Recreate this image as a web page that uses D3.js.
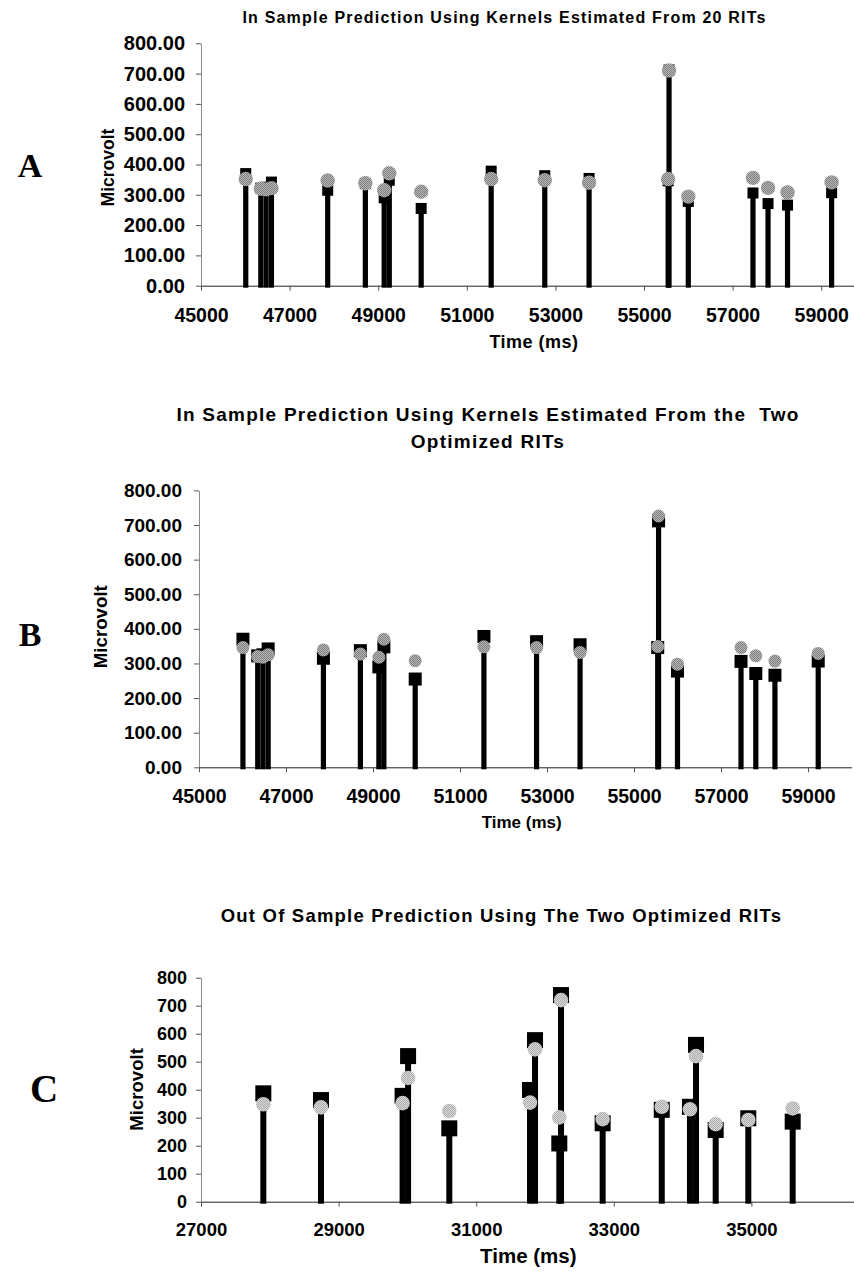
<!DOCTYPE html>
<html>
<head>
<meta charset="utf-8">
<script src="https://cdn.jsdelivr.net/npm/d3@7"></script>
<style>
  body { margin: 0; background: #fff; }
  svg { display: block; }
  text { font-family: "Liberation Sans", Arial, sans-serif; font-weight: bold; fill: #000; }
  .letter { font-family: "Liberation Serif", "Times New Roman", serif; }
</style>
</head>
<body>
<svg id="fig" width="854" height="1276"></svg>
<script>
// ---- In-sample events (panels A and B share the recorded responses) ----
const inSampleTimes = [46010, 46350, 46470, 46590, 47860, 48710, 49135, 49250, 49970,
                       51550, 52760, 53760, 55545, 55565, 56000, 57460, 57800, 58240, 59235];
const measuredAB    = [370, 322, 325, 342, 315, 337, 290, 348, 255,
                       378, 363, 354, 346, 712, 278, 306, 271, 266, 307];
// prediction from kernels estimated with 20 RITs
const predictedA    = [352, 320, 318, 322, 347, 338, 315, 371, 310,
                       352, 348, 340, 352, 710, 294, 356, 323, 308, 341];
// prediction from kernels estimated with the two optimized RITs
const predictedB    = [346, 320, 318, 325, 339, 327, 318, 370, 308,
                       348, 346, 332, 349, 726, 298, 346, 322, 307, 329];

// ---- Out-of-sample events (panel C) ----
const outSampleTimes = [27906, 28744, 29930, 30010, 30609, 31782, 31855, 32208,
                        32233, 32838, 33697, 34107, 34195, 34481, 34955, 35600];
const measuredC      = [387, 363, 378, 520, 262, 399, 577, 208,
                        738, 280, 328, 339, 560, 256, 298, 286];
const predictedC     = [348, 337, 352, 442, 324, 354, 544, 301,
                        720, 295, 339, 330, 520, 277, 292, 333];

// ---- Axis ticks and labels ----
const inSampleXTicks  = [45000, 47000, 49000, 51000, 53000, 55000, 57000, 59000];
const outSampleXTicks = [27000, 29000, 31000, 33000, 35000];
const voltTicks       = [0, 100, 200, 300, 400, 500, 600, 700, 800];
const titleA  = ["In Sample Prediction Using Kernels Estimated From 20 RITs"];
const titleB  = ["In Sample Prediction Using Kernels Estimated From the  Two", "Optimized RITs"];
const titleC  = ["Out Of Sample Prediction Using The Two Optimized RITs"];
const yTitle  = "Microvolt";
const xTitle  = "Time (ms)";

const svg = d3.select("#fig");

// dithered grey fills for the predicted-value markers
const defs = svg.append("defs");
function dither(id, base, dot) {
  const p = defs.append("pattern").attr("id", id)
    .attr("patternUnits", "userSpaceOnUse").attr("width", 2).attr("height", 2);
  p.append("rect").attr("width", 2).attr("height", 2).attr("fill", base);
  p.append("rect").attr("x", 0).attr("y", 0).attr("width", 1).attr("height", 1).attr("fill", dot);
  p.append("rect").attr("x", 1).attr("y", 1).attr("width", 1).attr("height", 1).attr("fill", dot);
}
dither("greyDark", "#b8b8b8", "#7e7e7e");
dither("greyLight", "#dadada", "#acacac");

const panels = [
  {
    letter: "A", letterPos: [30, 177], letterSize: 34,
    times: inSampleTimes, measured: measuredAB, predicted: predictedA,
    xDomain: [45000, 60000], xRange: [201, 865.5], yRange: [285.7, 43.3],
    xTicks: inSampleXTicks, yFmt: d3.format(".2f"),
    yTickFont: 20, yTickPad: 11, xTickFont: 19.5, xTickPad: 17,
    title: titleA, titleX: 504.5, titleY: 23.3, titleFont: 16, titleLs: 1.2, titleGap: 0,
    yTitlePos: [114, 167.5], yTitleFont: 17.5,
    xTitlePos: [534, 348.3], xTitleFont: 18, xTitleLs: 0.5,
    stem: 5.2, square: 11, circle: 7.2, fill: "url(#greyDark)"
  },
  {
    letter: "B", letterPos: [30, 646], letterSize: 34,
    times: inSampleTimes, measured: measuredAB, predicted: predictedB,
    xDomain: [45000, 60000], xRange: [199, 851.5], yRange: [767.3, 490.4],
    xTicks: inSampleXTicks, yFmt: d3.format(".2f"),
    yTickFont: 19, yTickPad: 12, xTickFont: 19.5, xTickPad: 17,
    title: titleB, titleX: 488, titleY: 421, titleFont: 19, titleLs: 1.25, titleGap: 26.7,
    yTitlePos: [106.7, 626.7], yTitleFont: 18.7,
    xTitlePos: [521.7, 828.3], xTitleFont: 17, xTitleLs: 0,
    stem: 5.2, square: 13, circle: 6.5, fill: "url(#greyDark)"
  },
  {
    letter: "C", letterPos: [44, 1101.7], letterSize: 39,
    times: outSampleTimes, measured: measuredC, predicted: predictedC,
    xDomain: [27000, 37000], xRange: [201, 889], yRange: [1201.7, 977.7],
    xTicks: outSampleXTicks, yFmt: d3.format("d"),
    yTickFont: 18, yTickPad: 9, xTickFont: 18.5, xTickPad: 16.5,
    title: titleC, titleX: 501.5, titleY: 922, titleFont: 18.5, titleLs: 1.2, titleGap: 0,
    yTitlePos: [143.3, 1089.4], yTitleFont: 18.6,
    xTitlePos: [528.3, 1263.3], xTitleFont: 20.5, xTitleLs: 0,
    stem: 6, square: 16, circle: 7.3, fill: "url(#greyLight)"
  }
];

panels.forEach(p => {
  const x = d3.scaleLinear().domain(p.xDomain).range(p.xRange);
  const y = d3.scaleLinear().domain([0, 800]).range(p.yRange);
  const g = svg.append("g");

  // y axis
  const ya = g.append("g").attr("transform", `translate(${p.xRange[0]},0)`)
    .call(d3.axisLeft(y).tickValues(voltTicks).tickFormat(p.yFmt)
      .tickSize(5).tickSizeOuter(0).tickPadding(p.yTickPad));
  ya.select(".domain").attr("stroke", "#8a8a8a");
  ya.selectAll(".tick line").attr("stroke", "#555");
  ya.selectAll("text").attr("font-size", p.yTickFont).attr("font-family", null).attr("fill", "#000");

  // x axis
  const xa = g.append("g").attr("transform", `translate(0,${p.yRange[0]})`)
    .call(d3.axisBottom(x).tickValues(p.xTicks).tickFormat(d3.format("d"))
      .tickSize(5).tickSizeOuter(0).tickPadding(p.xTickPad));
  xa.select(".domain").attr("stroke", "#222");
  xa.selectAll(".tick line").attr("stroke", "#555");
  xa.selectAll("text").attr("font-size", p.xTickFont).attr("font-family", null).attr("fill", "#000");

  const idx = d3.range(p.times.length);

  // stems from zero up to the measured response
  g.append("g").selectAll("rect").data(idx).join("rect")
    .attr("x", i => x(p.times[i]) - p.stem / 2)
    .attr("width", p.stem)
    .attr("y", i => y(p.measured[i]))
    .attr("height", i => y(0) + 2 - y(p.measured[i]))
    .attr("fill", "#000");

  // measured response markers
  g.append("g").selectAll("rect").data(idx).join("rect")
    .attr("x", i => x(p.times[i]) - p.square / 2)
    .attr("y", i => y(p.measured[i]) - p.square / 2)
    .attr("width", p.square).attr("height", p.square)
    .attr("fill", "#000");

  // predicted response markers
  g.append("g").selectAll("circle").data(idx).join("circle")
    .attr("cx", i => x(p.times[i]))
    .attr("cy", i => y(p.predicted[i]))
    .attr("r", p.circle)
    .attr("fill", p.fill);

  // chart title
  g.append("g").selectAll("text").data(p.title).join("text")
    .attr("x", p.titleX)
    .attr("y", (d, i) => p.titleY + i * p.titleGap)
    .attr("text-anchor", "middle")
    .attr("font-size", p.titleFont)
    .attr("letter-spacing", p.titleLs)
    .style("white-space", "pre")
    .text(d => d);

  // axis titles
  g.append("text")
    .attr("transform", `translate(${p.yTitlePos[0]},${p.yTitlePos[1]}) rotate(-90)`)
    .attr("text-anchor", "middle")
    .attr("font-size", p.yTitleFont)
    .text(yTitle);
  g.append("text")
    .attr("x", p.xTitlePos[0]).attr("y", p.xTitlePos[1])
    .attr("text-anchor", "middle")
    .attr("font-size", p.xTitleFont)
    .attr("letter-spacing", p.xTitleLs)
    .text(xTitle);

  // panel letter
  g.append("text").attr("class", "letter")
    .attr("x", p.letterPos[0]).attr("y", p.letterPos[1])
    .attr("text-anchor", "middle")
    .attr("font-size", p.letterSize)
    .text(p.letter);
});
</script>
</body>
</html>
